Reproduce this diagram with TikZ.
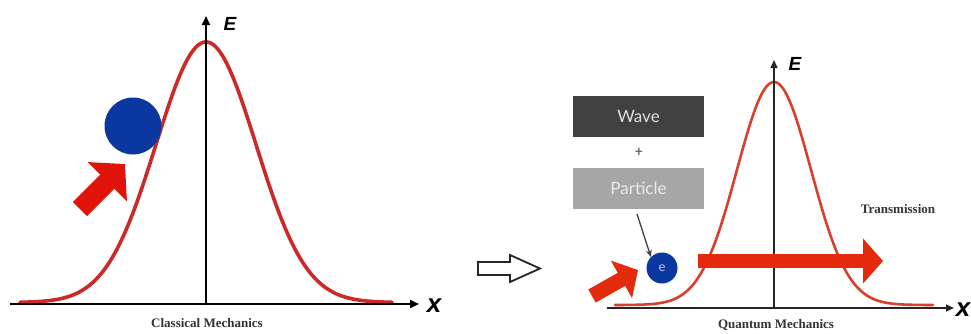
\documentclass[tikz,border=0pt]{standalone}
\usepackage{fontspec}
\setmainfont{Liberation Serif}
\newfontfamily\arialf{Liberation Sans}
\newfontfamily\latof{Lato}
\usetikzlibrary{arrows.meta}
\definecolor{curvered}{HTML}{CC2A2A}
\definecolor{curvered2}{HTML}{D8402E}
\definecolor{arrowred}{HTML}{E0140A}
\definecolor{arrowred2}{HTML}{E42A0C}
\definecolor{ballblue}{HTML}{0A38A0}
\definecolor{darkbox}{HTML}{404040}
\definecolor{lightbox}{HTML}{A6A6A6}
\tikzset{
  axis/.style={line width=2pt, black, -{Triangle[length=9pt,width=8pt]}},
  axisthin/.style={line width=1.5pt, black!85, -{Triangle[length=8pt,width=7pt]}},
  axlabel/.style={font=\arialf\bfseries\itshape\fontsize{19}{19}\selectfont, inner sep=0pt},
  xlabel/.style={font=\arialf\bfseries\itshape\fontsize{26}{26}\selectfont, inner sep=0pt},
  caption/.style={font=\bfseries\fontsize{13}{13}\selectfont, text=black!80, inner sep=0pt},
  boxdark/.style={fill=darkbox, minimum width=131pt, minimum height=41pt, inner sep=0pt,
     font=\latof\fontsize{17}{17}\selectfont, text=white!88!black},
  boxlight/.style={fill=lightbox, minimum width=131pt, minimum height=41pt, inner sep=0pt,
     font=\latof\fontsize{17}{17}\selectfont, text=white!92!black},
}
\begin{document}
\begin{tikzpicture}[x=1pt,y=-1pt]
\fill[white] (0,0) rectangle (971,333);
\useasboundingbox (0,0) rectangle (971,333);

% ---------- Left panel: classical ----------
\coordinate (lxa) at (10,304);
\coordinate (lxb) at (419,304);
\coordinate (lya) at (206,305);
\coordinate (lyb) at (206,16);
\draw[curvered, line width=3.6pt, line cap=round, domain=20:392, samples=160, smooth]
  plot (\x, {302.5 - 260.5*exp(-((\x-206)/50)^2/2)});
\draw[axis] (lxa) -- (lxb);
\draw[axis] (lya) -- (lyb);
\node[axlabel] (lE) at (230,24) {E};
\node[xlabel] (lX) at (434,306) {x};
\node[caption] (lcap) at (207,323) {Classical Mechanics};

\node[circle, fill=ballblue, minimum size=57pt, inner sep=0pt] (ball) at (133,126) {};
\coordinate (la1) at (80,209);
\coordinate (la2) at (125,164);
\draw[arrowred, line width=20pt, -{Triangle[length=25pt,width=54pt]}] (la1) -- (la2);

% ---------- Hollow arrow ----------
\draw[line width=1.8pt, black!85, line join=miter, fill=white]
  (478,262) -- (510,262) -- (510,255) -- (540,268.5) -- (510,282) -- (510,275) -- (478,275) -- cycle;

% ---------- Right panel: quantum ----------
\coordinate (rxa) at (607,308);
\coordinate (rxb) at (954,308);
\coordinate (rya) at (774,308);
\coordinate (ryb) at (774,60);
\draw[curvered2, line width=2.6pt, line cap=round, domain=615:933, samples=160, smooth]
  plot (\x, {305 - 223*exp(-((\x-774)/37)^2/2)});
\draw[axisthin] (rxa) -- (rxb);
\draw[axisthin] (rya) -- (ryb);
\node[axlabel] (rE) at (795,64) {E};
\node[xlabel, anchor=east] (rX) at (970.5,310) {x};
\node[caption] (rcap) at (776,325) {Quantum Mechanics};

\node[boxdark] (wave) at (638.5,116.5) {Wave};
\node[font=\latof\bfseries\fontsize{14}{14}\selectfont, text=black!60, inner sep=0pt] (plus) at (639,152) {+};
\node[boxlight] (particle) at (638.5,188.5) {Particle};

\node[circle, fill=ballblue, minimum size=31pt, inner sep=0pt,
      font=\latof\fontsize{13}{13}\selectfont, text=white!80!blue] (elec) at (662,268) {e};
\draw[black!75, line width=1.3pt, -{Stealth[length=7pt,width=6pt]}] (637,214) -- (elec.north west);

\coordinate (ra1) at (592,296);
\coordinate (ra2) at (638,270);
\draw[arrowred2, line width=15pt, -{Triangle[length=19pt,width=42pt]}] (ra1) -- (ra2);

\coordinate (ta1) at (698,261);
\coordinate (ta2) at (883,261);
\draw[arrowred2, line width=14pt, -{Triangle[length=20pt,width=44pt]}] (ta1) -- (ta2);

\node[caption] (trans) at (898,209) {Transmission};
\end{tikzpicture}
\end{document}
